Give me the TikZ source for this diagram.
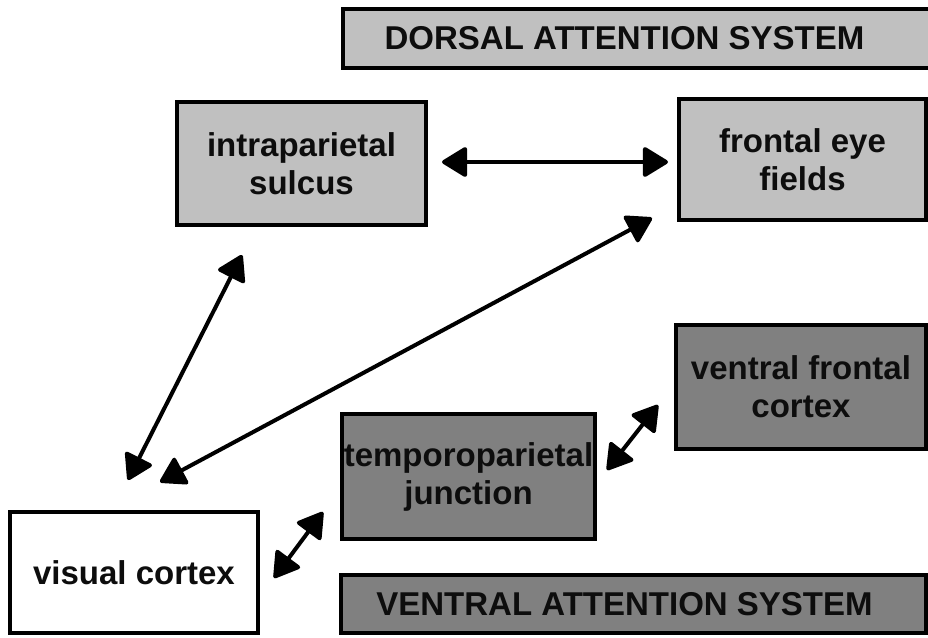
\documentclass[tikz,border=0pt]{standalone}
\usepackage{fontspec}
\setmainfont{Liberation Sans}
\usetikzlibrary{arrows.meta}
\definecolor{lightgreybox}{RGB}{192,192,192}
\definecolor{darkgreybox}{RGB}{128,128,128}
\begin{document}
\begin{tikzpicture}[x=1pt,y=-1pt,
  box/.style={draw=black, line width=4pt, font=\fontsize{33}{38}\selectfont\bfseries, align=center, inner sep=0pt, text=black!95},
  lightbox/.style={box, fill=lightgreybox},
  darkbox/.style={box, fill=darkgreybox},
  whitebox/.style={box, fill=white},
  link/.style={line width=4pt, {Triangle[length=27pt,width=32pt,round]}-{Triangle[length=27pt,width=32pt,round]}}]
\useasboundingbox (0,0) rectangle (928,637);
\fill[white] (0,0) rectangle (928,637);

\node[lightbox, minimum width=587pt, minimum height=59pt] (das) at (636.5,38.5) {\hspace*{-24pt}DORSAL ATTENTION SYSTEM};
\node[lightbox, minimum width=249pt, minimum height=123pt] (ips) at (301.5,163.5) {intraparietal\\sulcus};
\node[lightbox, minimum width=247pt, minimum height=121pt] (fef) at (802.5,159.5) {frontal eye\\fields};
\node[darkbox, minimum width=250pt, minimum height=124pt] (vfc) at (801,387) {ventral frontal\\cortex};
\node[darkbox, minimum width=253pt, minimum height=125pt] (tpj) at (468.5,476.5) {temporoparietal\\junction};
\node[whitebox, minimum width=248pt, minimum height=121pt] (vc) at (134,572.5) {visual cortex};
\node[darkbox, minimum width=585pt, minimum height=58pt] (vas) at (633.5,604) {\hspace*{-18pt}VENTRAL ATTENTION SYSTEM};

\coordinate (ipsR) at (442,162);
\coordinate (fefL) at (668,162);
\coordinate (ipsB) at (242,255);
\coordinate (vcA) at (128,480);
\coordinate (fefB) at (652,218);
\coordinate (vcB) at (160,482);
\coordinate (tpjR) at (607,470);
\coordinate (vfcL) at (658,405);
\coordinate (vcR) at (274,578);
\coordinate (tpjL) at (323,512);

\draw[link] (ipsR) -- (fefL);
\draw[link] (ipsB) -- (vcA);
\draw[link] (fefB) -- (vcB);
\draw[link] (tpjR) -- (vfcL);
\draw[link] (vcR) -- (tpjL);
\end{tikzpicture}
\end{document}
